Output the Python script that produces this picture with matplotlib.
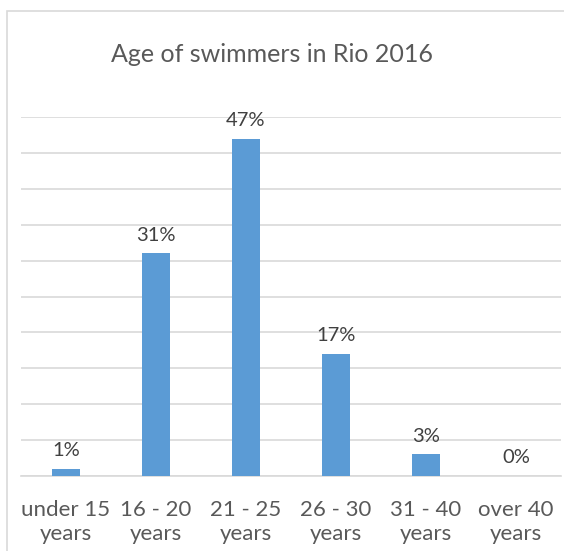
import matplotlib.pyplot as plt
from matplotlib.patches import Rectangle

plt.rcParams['font.family'] = ['Lato', 'DejaVu Sans']

# age groups and share of swimmers (%)
categories = ["under 15\nyears", "16 - 20\nyears", "21 - 25\nyears",
              "26 - 30\nyears", "31 - 40\nyears", "over 40\nyears"]
shares = [1, 31, 47, 17, 3, 0]
labels = ["1%", "31%", "47%", "17%", "3%", "0%"]

W, H = 564, 551
fig = plt.figure(figsize=(W / 100, H / 100), dpi=100)
fig.patch.set_facecolor("white")

# light frame round the chart area
fig.patches.append(Rectangle((7 / W, -0.05), 1.2, 1 - 11 / H + 0.05,
                             transform=fig.transFigure, fill=False,
                             edgecolor="#d9d9d9", linewidth=1.2))

ax = fig.add_axes([21 / W, 1 - 476 / H, 540 / W, (476 - 117) / H])
x = range(len(categories))
ax.bar(x, shares, width=0.31, color="#5b9bd5", zorder=3)

for xi, v, lab in zip(x, shares, labels):
    ax.annotate(lab, (xi, v), xytext=(0, 7), textcoords="offset points",
                ha="center", va="bottom", fontsize=14.5, color="#404040")

ax.set_xlim(-0.5, len(categories) - 0.5)
ax.set_ylim(0, 50)
ax.set_yticks(range(0, 51, 5))
ax.yaxis.grid(True, color="#d9d9d9", linewidth=1.2, zorder=0)
ax.set_yticklabels([])
ax.tick_params(axis="y", length=0)
ax.set_xticks(list(x))
ax.set_xticklabels(categories, fontsize=16, color="#595959", linespacing=1.3)
ax.tick_params(axis="x", length=0, pad=17)
for s in ["top", "right", "left"]:
    ax.spines[s].set_visible(False)
ax.spines["bottom"].set_color("#d9d9d9")
ax.spines["bottom"].set_linewidth(1.2)

fig.text(272 / W, 1 - 55 / H, "Age of swimmers in Rio 2016",
         ha="center", va="center", fontsize=18, color="#595959")

fig.savefig("out.png", dpi=100)
